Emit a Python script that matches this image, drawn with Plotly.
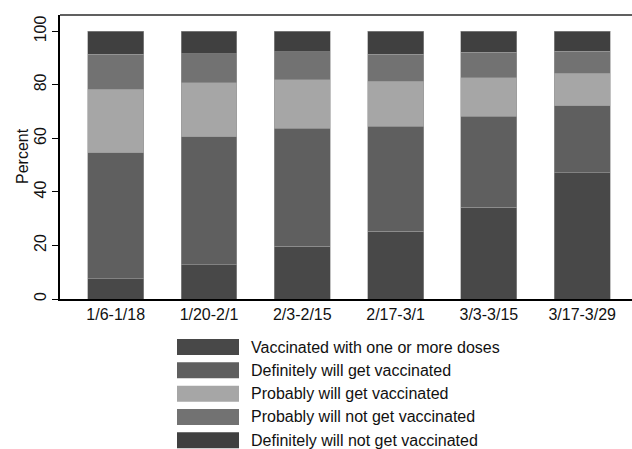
import plotly.graph_objects as go

categories = ["1/6-1/18", "1/20-2/1", "2/3-2/15", "2/17-3/1", "3/3-3/15", "3/17-3/29"]
series_names = [
    "Vaccinated with one or more doses",
    "Definitely will get vaccinated",
    "Probably will get vaccinated",
    "Probably will not get vaccinated",
    "Definitely will not get vaccinated",
]
vaccinated = [7.6, 12.8, 19.8, 25.4, 34.2, 47.1]
definitely = [47.1, 47.9, 43.9, 39.2, 34.0, 25.1]
probably = [23.7, 20.0, 18.2, 16.8, 14.5, 12.2]
probably_not = [13.0, 10.9, 10.4, 10.0, 9.4, 8.1]
definitely_not = [8.6, 8.4, 7.7, 8.6, 7.9, 7.5]
series_values = [vaccinated, definitely, probably, probably_not, definitely_not]
colors = ["#484848", "#5f5f5f", "#a6a6a6", "#727272", "#404040"]
y_ticks = [0, 20, 40, 60, 80, 100]

W, H = 632, 449
L, R, T, B = 60, 0, 15, 150
PW, PH = W - L - R, H - T - B

def px_x(p):
    return (p - L) / PW

def px_y(p):
    return (H - B - p) / PH

fig = go.Figure()
for name, vals, col in zip(series_names, series_values, colors):
    fig.add_trace(go.Bar(
        x=list(range(len(categories))), y=vals, name=name,
        marker=dict(color=col, line=dict(color="#9a9a9a", width=0.6)),
        width=0.6, showlegend=False,
    ))

shapes = [dict(type="line", xref="paper", yref="paper", x0=0, x1=1, y0=1, y1=1,
               line=dict(color="#606060", width=2))]
annotations = [dict(xref="paper", yref="paper", x=px_x(22.5), y=px_y(156.5),
                    text="Percent", textangle=-90, showarrow=False,
                    xanchor="center", yanchor="middle", font=dict(size=16, color="#111111"))]
box_x0, box_x1, text_x = 177, 239, 249
row_top0, row_step, box_h = 339, 23.33, 16
for i, (name, col) in enumerate(zip(series_names, colors)):
    top = row_top0 + i * row_step
    shapes.append(dict(type="rect", xref="paper", yref="paper",
                       x0=px_x(box_x0), x1=px_x(box_x1), y0=px_y(top + box_h), y1=px_y(top),
                       fillcolor=col, line=dict(width=0)))
    annotations.append(dict(xref="paper", yref="paper", x=px_x(text_x), y=px_y(top + box_h / 2),
                            text=name, showarrow=False, xanchor="left", yanchor="middle",
                            font=dict(size=16, color="#111111")))

fig.update_layout(
    width=W, height=H, barmode="stack", bargap=0.4,
    margin=dict(l=L, r=R, t=T, b=B),
    plot_bgcolor="white", paper_bgcolor="white",
    font=dict(family="Liberation Sans, Arial, sans-serif", size=16, color="#111111"),
    shapes=shapes, annotations=annotations,
    xaxis=dict(
        tickmode="array", tickvals=list(range(len(categories))), ticktext=categories,
        range=[-0.597, 5.534], showline=True, linecolor="black", linewidth=1.5,
        ticks="", showgrid=False, zeroline=False, tickfont=dict(size=16),
    ),
    yaxis=dict(
        range=[0, 106.1], tickvals=y_ticks, tickangle=-90,
        showline=True, linecolor="black", linewidth=1.5, ticks="outside", ticklen=6,
        tickcolor="black", showgrid=False, zeroline=False, tickfont=dict(size=16),
    ),
)
fig.write_html("out.html", config={"displayModeBar": False},
               post_script="document.body.style.margin='0';document.body.style.overflow='hidden';")
